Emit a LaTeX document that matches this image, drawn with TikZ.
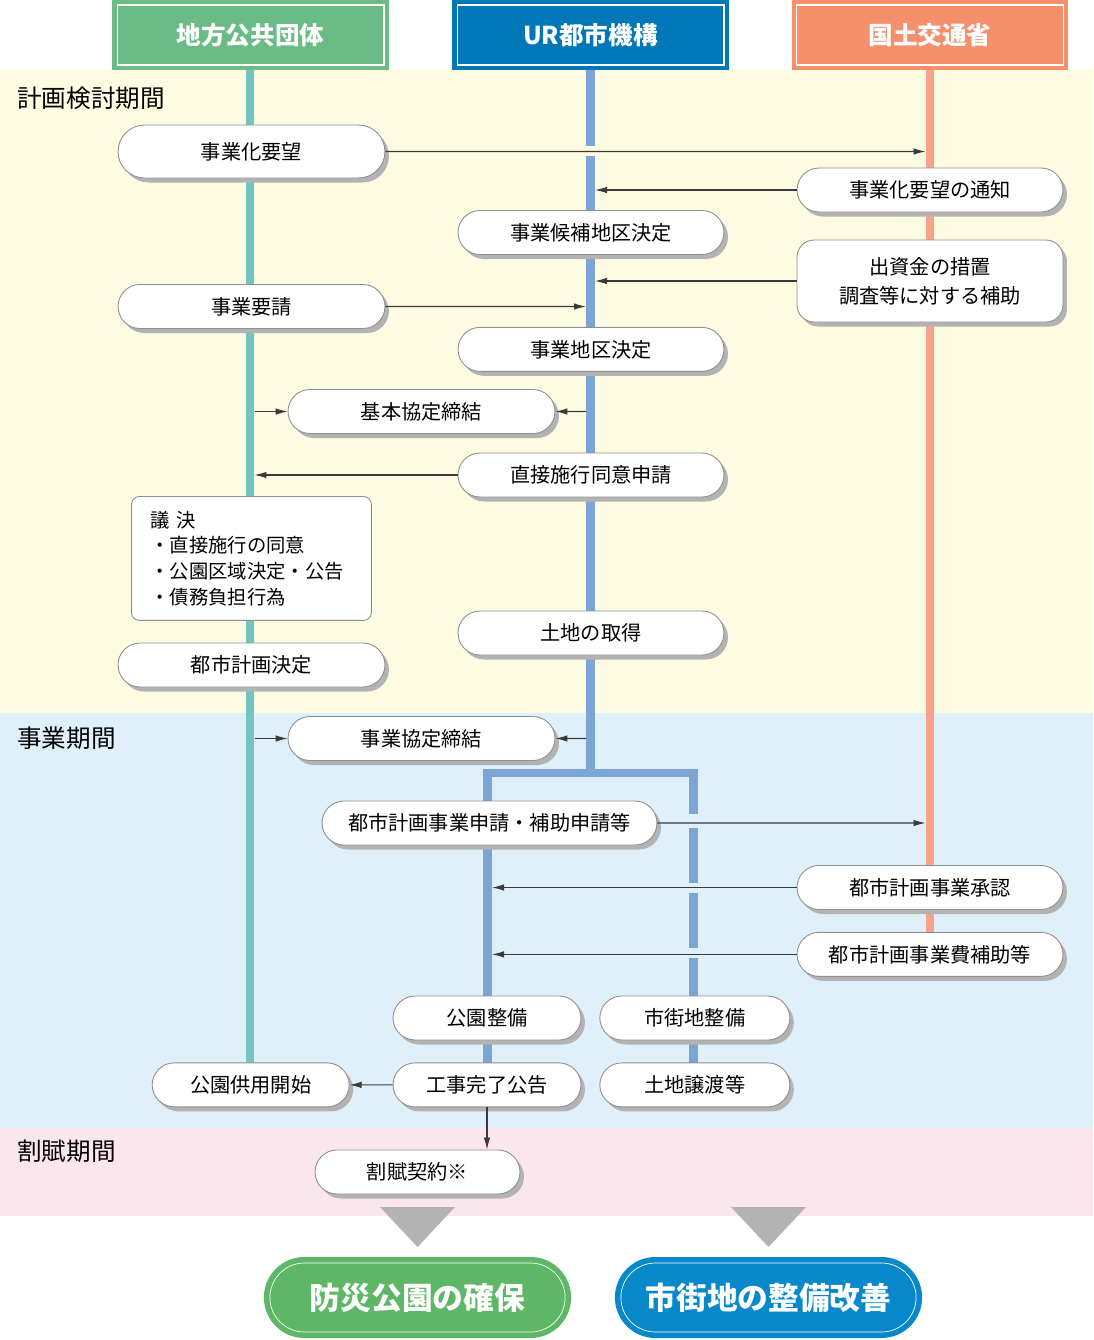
\documentclass[tikz,border=0pt]{standalone}
\usepackage{xcolor}
\usepackage{fontspec}
\setmainfont{Noto Sans CJK JP}
\usepackage{tikz}
\usetikzlibrary{positioning,shapes.misc,shadows,arrows.meta}

\definecolor{bandY}{HTML}{FEFBE3}
\definecolor{bandB}{HTML}{DFF0FB}
\definecolor{bandP}{HTML}{FCE6EE}
\definecolor{hdG}{HTML}{6BBC84}
\definecolor{hdB}{HTML}{0077B7}
\definecolor{hdO}{HTML}{F68F6C}
\definecolor{lnG}{HTML}{72C5C1}
\definecolor{lnB}{HTML}{7BA6D3}
\definecolor{lnO}{HTML}{F8A28C}
\definecolor{glG}{HTML}{5DB766}
\definecolor{glB}{HTML}{0788CB}
\definecolor{edge}{HTML}{8F8F8F}
\definecolor{dropgray}{HTML}{B3B3B3}
\definecolor{ink}{HTML}{3A3A3A}

\pgfdeclarelayer{back}
\pgfsetlayers{back,main}

\begin{document}
\begin{tikzpicture}[x=0.02cm, y=-0.02cm,
    pill/.style={rounded rectangle, draw=edge, fill=white, line width=0.5pt,
      minimum width=#1, minimum height=0.88cm, inner sep=0pt,
      font=\fontsize{11.5}{14}\selectfont,
      drop shadow={shadow xshift=0.08cm, shadow yshift=-0.09cm, fill=dropgray, opacity=1}},
    card/.style={draw=edge, fill=white, line width=0.5pt, align=center,
      font=\fontsize{11.5}{16.5}\selectfont},
    head/.style={fill=#1, minimum width=5.54cm, minimum height=1.4cm},
    headin/.style={draw=white, line width=0.6pt, minimum width=5.34cm, minimum height=1.2cm,
      text=white, font=\fontsize{14}{16}\selectfont\bfseries},
    goal/.style={rounded rectangle, fill=#1, minimum width=6.38cm, minimum height=1.62cm},
    goalin/.style={rounded rectangle, draw=white, line width=0.4pt, minimum width=6.14cm,
      minimum height=1.38cm, text=white, font=\fontsize{17.5}{20}\selectfont\bfseries},
    period/.style={anchor=west, inner sep=0pt, font=\fontsize{14}{16}\selectfont},
    lane/.style={line width=5pt},
    flow/.style={draw=ink, line width=0.6pt, -{Latex[length=2.4mm,width=1.3mm]}},
    tolane/.style={shorten >=0.09cm},
    fromlane/.style={shorten <=0.09cm},
  ]
    \useasboundingbox (0,0) rectangle (1093,1340);

    \coordinate (lA) at (250,0);
    \coordinate (lB) at (590.5,0);
    \coordinate (lC) at (930,0);
    \coordinate (lL) at (487.5,0);

    \node[head=hdG] (h1) at (250.5,35) {};
    \node[headin] (t1) at (h1) {地方公共団体};
    \node[head=hdB] (h2) at (590.5,35) {};
    \node[headin] (t2) at (h2) {UR都市機構};
    \node[head=hdO] (h3) at (930,35) {};
    \node[headin] (t3) at (h3) {国土交通省};

    \node[period] (p1) at (17,98) {計画検討期間};
    \node[period] (p2) at (17,738) {事業期間};
    \node[period] (p3) at (17,1151) {割賦期間};

    \node[pill=5.34cm, minimum height=1.06cm] (a1) at (251.5,151.5) {事業化要望};
    \node[pill=5.32cm] (c1) at (930,190) {事業化要望の通知};
    \node[pill=5.32cm] (b1) at (591,232.5) {事業候補地区決定};
    \node[card, rounded corners=0.34cm, minimum width=5.32cm, minimum height=1.64cm,
      drop shadow={shadow xshift=0.08cm, shadow yshift=-0.09cm, fill=dropgray, opacity=1}]
      (c2) at (930,281) {出資金の措置\\調査等に対する補助};
    \node[pill=5.34cm] (a2) at (251.5,306.5) {事業要請};
    \node[pill=5.32cm, below=1.44cm of b1] (b2) {事業地区決定};
    \node[pill=5.34cm] (m1) at (421.5,411.5) {基本協定締結};
    \node[pill=5.32cm] (b3) at (591,475) {直接施行同意申請};
    \node[card, rounded corners=0.16cm, anchor=north west, minimum width=4.8cm,
      minimum height=2.48cm, text width=4.04cm, inner xsep=0.38cm, align=left,
      font=\fontsize{11}{14.7}\selectfont]
      (a3) at (131,496) {議 決\\・直接施行の同意\\・公園区域決定・公告\\・債務負担行為};
    \node[pill=5.32cm] (b4) at (591,633) {土地の取得};
    \node[pill=5.34cm] (a4) at (251.5,665) {都市計画決定};

    \node[pill=5.34cm] (m2) at (m1 |- 0,738.5) {事業協定締結};
    \node[pill=6.7cm] (m3) at (489.5,823) {都市計画事業申請・補助申請等};
    \node[pill=5.32cm] (c3) at (930,887.5) {都市計画事業承認};
    \node[pill=5.32cm, below=0.44cm of c3] (c4) {都市計画事業費補助等};
    \node[pill=3.76cm] (l1) at (487,1018) {公園整備};
    \node[pill=3.8cm, right=0.36cm of l1] (r1) {市街地整備};
    \node[pill=3.76cm, below=0.44cm of l1] (l2) {工事完了公告};
    \node[pill=3.8cm, below=0.44cm of r1] (r2) {土地譲渡等};
    \node[pill=3.94cm, left=0.86cm of l2] (a5) {公園供用開始};
    \node[pill=4.1cm] (k1) at (417.5,1172) {割賦契約※};

    \fill[dropgray] (380,1207) -- (455,1207) -- (417.5,1247) -- cycle;
    \fill[dropgray] (731,1207) -- (806,1207) -- (768.5,1247) -- cycle;

    \node[goal=glG] (g1) at (417.5,1297.5) {};
    \node[goalin] (s1) at (g1) {防災公園の確保};
    \node[goal=glB] (g2) at (768.5,1297.5) {};
    \node[goalin] (s2) at (g2) {市街地の整備改善};

    \draw[flow, tolane] (a1) -- (a1 -| lC);
    \draw[flow, tolane] (c1) -- (c1 -| lB);
    \draw[flow, tolane] (c2) -- (c2 -| lB);
    \draw[flow, tolane] (a2) -- (a2 -| lB);
    \draw[flow, fromlane] (m1 -| lA) -- (m1);
    \draw[flow, fromlane] (m1 -| lB) -- (m1);
    \draw[flow, tolane] (b3) -- (b3 -| lA);
    \draw[flow, fromlane] (m2 -| lA) -- (m2);
    \draw[flow, fromlane] (m2 -| lB) -- (m2);
    \draw[flow, tolane] (m3) -- (m3 -| lC);
    \draw[flow, tolane] (c3) -- (c3 -| lL);
    \draw[flow, tolane] (c4) -- (c4 -| lL);
    \draw[flow] (l2) -- (a5);
    \draw[flow] (l2.south) -- (l2.south |- k1.north);

    \begin{pgfonlayer}{back}
      \fill[bandY] (0,70) rectangle (1093,713);
      \fill[bandB] (0,713) rectangle (1093,1128);
      \fill[bandP] (0,1128) rectangle (1093,1216);

      \draw[lane, lnG] (250,70) -- (250,1080);
      \draw[lane, lnO] (930,70) -- (930,960);
      \draw[lane, lnB] (590.5,70) -- (590.5,146);
      \draw[lane, lnB] (590.5,156) -- (590.5,773);
      \draw[lane, lnB] (487.5,1080) -- (487.5,773) -- (693.5,773) -- (693.5,814);
      \draw[lane, lnB] (693.5,828) -- (693.5,883);
      \draw[lane, lnB] (693.5,893) -- (693.5,948);
      \draw[lane, lnB] (693.5,958) -- (693.5,1080);
    \end{pgfonlayer}
\end{tikzpicture}
\end{document}
